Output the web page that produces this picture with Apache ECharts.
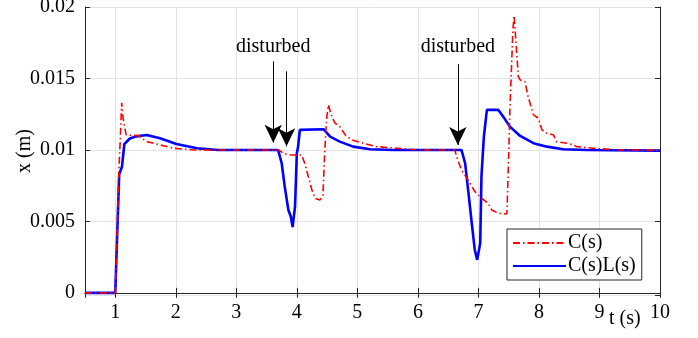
<!DOCTYPE html>
<html>
<head>
<meta charset="utf-8">
<script src="https://cdn.jsdelivr.net/npm/echarts@6/dist/echarts.min.js"></script>
<style>
  html, body { margin: 0; padding: 0; background: #fff; }
  #chart { width: 698px; height: 338px; }
</style>
</head>
<body>
<div id="chart"></div>
<script>
// C(s) response (red, dash-dot)
var tRed = [0.5, 1.0, 1.06, 1.09, 1.106, 1.13, 1.18, 1.38, 1.52, 1.74, 1.96, 2.3, 3.7, 3.78, 3.89, 4.08,
  4.13, 4.19, 4.25, 4.30, 4.38, 4.43, 4.46, 4.49, 4.52, 4.58, 4.63, 4.71, 4.80, 4.91, 5.10, 5.32, 5.65, 6.0,
  6.61, 6.64, 6.72, 6.83, 6.94, 7.05, 7.16, 7.22, 7.33, 7.47, 7.49, 7.52, 7.57, 7.59, 7.62, 7.66, 7.69,
  7.77, 7.82, 7.91, 7.99, 8.05, 8.13, 8.24, 8.29, 8.46, 8.57, 8.62, 8.90, 9.3, 10];
var xRed = [0, 0, 0.0085, 0.0115, 0.0133, 0.0122, 0.01105, 0.0110, 0.01058, 0.01035, 0.01012, 0.01, 0.01, 0.00975, 0.00965, 0.00965,
  0.00907, 0.00813, 0.0072, 0.00662, 0.0065, 0.00673, 0.00977, 0.0121, 0.01315, 0.01233, 0.01187, 0.01163, 0.01105, 0.0107, 0.01047, 0.01023, 0.01012, 0.01,
  0.01, 0.00953, 0.0086, 0.0079, 0.00709, 0.00662, 0.00627, 0.0058, 0.00557, 0.00552, 0.00813, 0.0128, 0.0184, 0.0194, 0.0193, 0.01513, 0.0149,
  0.01478, 0.01373, 0.01245, 0.01222, 0.0114, 0.01117, 0.01105, 0.01058, 0.01047, 0.01035, 0.01023, 0.01012, 0.01, 0.00998];

// C(s)L(s) response (blue, solid)
var tBlue = [0.5, 1.0, 1.065, 1.11, 1.15, 1.24, 1.35, 1.52, 1.74, 2.01, 2.35, 2.7, 3.69, 3.75, 3.80, 3.86,
  3.90, 3.93, 3.97, 4.00, 4.02, 4.05, 4.44, 4.55, 4.71, 4.93, 5.21, 5.6, 6.72, 6.78, 6.83, 6.89, 6.94, 6.98,
  7.03, 7.05, 7.09, 7.14, 7.16, 7.33, 7.41, 7.52, 7.69, 7.91, 8.13, 8.40, 8.8, 10];
var xBlue = [0, 0, 0.0083, 0.0088, 0.0104, 0.0108, 0.01095, 0.01105, 0.01082, 0.01042, 0.01012, 0.01, 0.01, 0.00907, 0.00743, 0.0058,
  0.00534, 0.0046, 0.00603, 0.00977, 0.0102, 0.0114, 0.01145, 0.01093, 0.01058, 0.01023, 0.01005, 0.01, 0.01, 0.00907, 0.0072, 0.00487, 0.003, 0.00231,
  0.00348, 0.00813, 0.01093, 0.0128, 0.01287, 0.0128, 0.01233, 0.01163, 0.01098, 0.01047, 0.01023, 0.01005, 0.01, 0.00995];

// "disturbed" arrows: time, start value, tip value
var arrowT = [3.61, 3.83, 6.66];
var arrowFrom = [0.0162, 0.0155, 0.0160];
var arrowTo = [0.0105, 0.01025, 0.01035];
var noteT = [3.61, 6.66];
var noteX = [0.0172, 0.0172];
var noteText = 'disturbed';

var names = ['C(s)', 'C(s)L(s)'];

var font = 'Liberation Serif';
var axisCol = '#262626';

function pairs(t, v) {
  return t.map(function (x, i) { return [x, v[i]]; });
}

var xBase = {
  type: 'value', min: 0.5, max: 10, splitNumber: 10,
  axisLine: { show: true, lineStyle: { color: axisCol, width: 1 } },
  axisTick: { show: true, inside: true, length: 5, lineStyle: { color: axisCol } }
};
var yBase = {
  type: 'value', min: -0.00015, max: 0.02, splitNumber: 4,
  axisLine: { show: true, lineStyle: { color: axisCol, width: 1 } },
  axisTick: { show: true, inside: true, length: 5, lineStyle: { color: axisCol } }
};

var chart = echarts.init(document.getElementById('chart'), null, { renderer: 'canvas' });

var option = {
  animation: false,
  backgroundColor: '#fff',
  grid: { left: 85, right: 38, top: 7, bottom: 43, outerBoundsMode: 'none', containLabel: false },
  legend: {
    data: names,
    orient: 'vertical',
    left: 507, top: 229,
    width: 144,
    padding: [4, 6, 4, 5],
    itemGap: 3,
    itemWidth: 53, itemHeight: 14,
    backgroundColor: '#fff',
    borderColor: axisCol, borderWidth: 1,
    itemStyle: { color: 'rgba(0,0,0,0)', borderWidth: 0, opacity: 0 },
    textStyle: { fontFamily: font, fontSize: 20, color: '#000', padding: [0, 0, 0, -3] }
  },
  xAxis: [
    Object.assign({}, xBase, {
      position: 'bottom',
      name: 't (s)', nameLocation: 'end', nameGap: -51, nameMoveOverlap: false,
      nameTextStyle: { fontFamily: font, fontSize: 20, color: '#000', align: 'left', verticalAlign: 'top', padding: [16, 0, 0, 0] },
      axisLabel: { fontFamily: font, fontSize: 20, color: '#000', margin: 8, showMinLabel: false,
        formatter: function (v) { return v === 0.5 ? '' : String(v); } },
      splitLine: { show: true, lineStyle: { color: '#e3e3e3', width: 1 } }
    }),
    Object.assign({}, xBase, { position: 'top', axisLabel: { show: false }, splitLine: { show: false } })
  ],
  yAxis: [
    Object.assign({}, yBase, {
      position: 'left',
      name: 'x (m)', nameLocation: 'middle', nameGap: 50, nameMoveOverlap: false,
      nameTextStyle: { fontFamily: font, fontSize: 20, color: '#000' },
      axisLabel: { fontFamily: font, fontSize: 20, color: '#000', margin: 10, showMinLabel: false,
        formatter: function (v) { return v < 0 ? '' : String(+v.toFixed(4)); } },
      splitLine: { show: true, lineStyle: { color: '#e3e3e3', width: 1 } }
    }),
    Object.assign({}, yBase, { position: 'right', axisLabel: { show: false }, splitLine: { show: false } })
  ],
  series: [
    {
      name: names[0], type: 'line', symbol: 'none', z: 3,
      data: pairs(tRed, xRed),
      lineStyle: { color: '#ff0000', width: 1.6, type: [7, 3, 1.5, 3] },
      itemStyle: { color: '#ff0000' }
    },
    {
      name: names[1], type: 'line', symbol: 'none', z: 2,
      data: pairs(tBlue, xBlue),
      lineStyle: { color: '#0000ff', width: 2.6 },
      itemStyle: { color: '#0000ff' }
    },
    {
      name: 'notes', type: 'line', symbol: 'none', data: [], z: 5,
      markLine: {
        silent: true, animation: false,
        symbol: ['none', 'arrow'], symbolSize: [13, 18],
        label: { show: false },
        lineStyle: { color: '#000', width: 1, type: 'solid' },
        data: arrowT.map(function (t, i) {
          return [{ coord: [t, arrowFrom[i]] }, { coord: [t, arrowTo[i]] }];
        })
      },
      markPoint: {
        silent: true, animation: false,
        symbol: 'circle', symbolSize: 1,
        itemStyle: { color: 'rgba(0,0,0,0)' },
        label: { show: true, position: 'inside', fontFamily: font, fontSize: 20, color: '#000', formatter: noteText },
        data: noteT.map(function (t, i) { return { coord: [t, noteX[i]] }; })
      }
    }
  ]
};

chart.setOption(option);
</script>
</body>
</html>
